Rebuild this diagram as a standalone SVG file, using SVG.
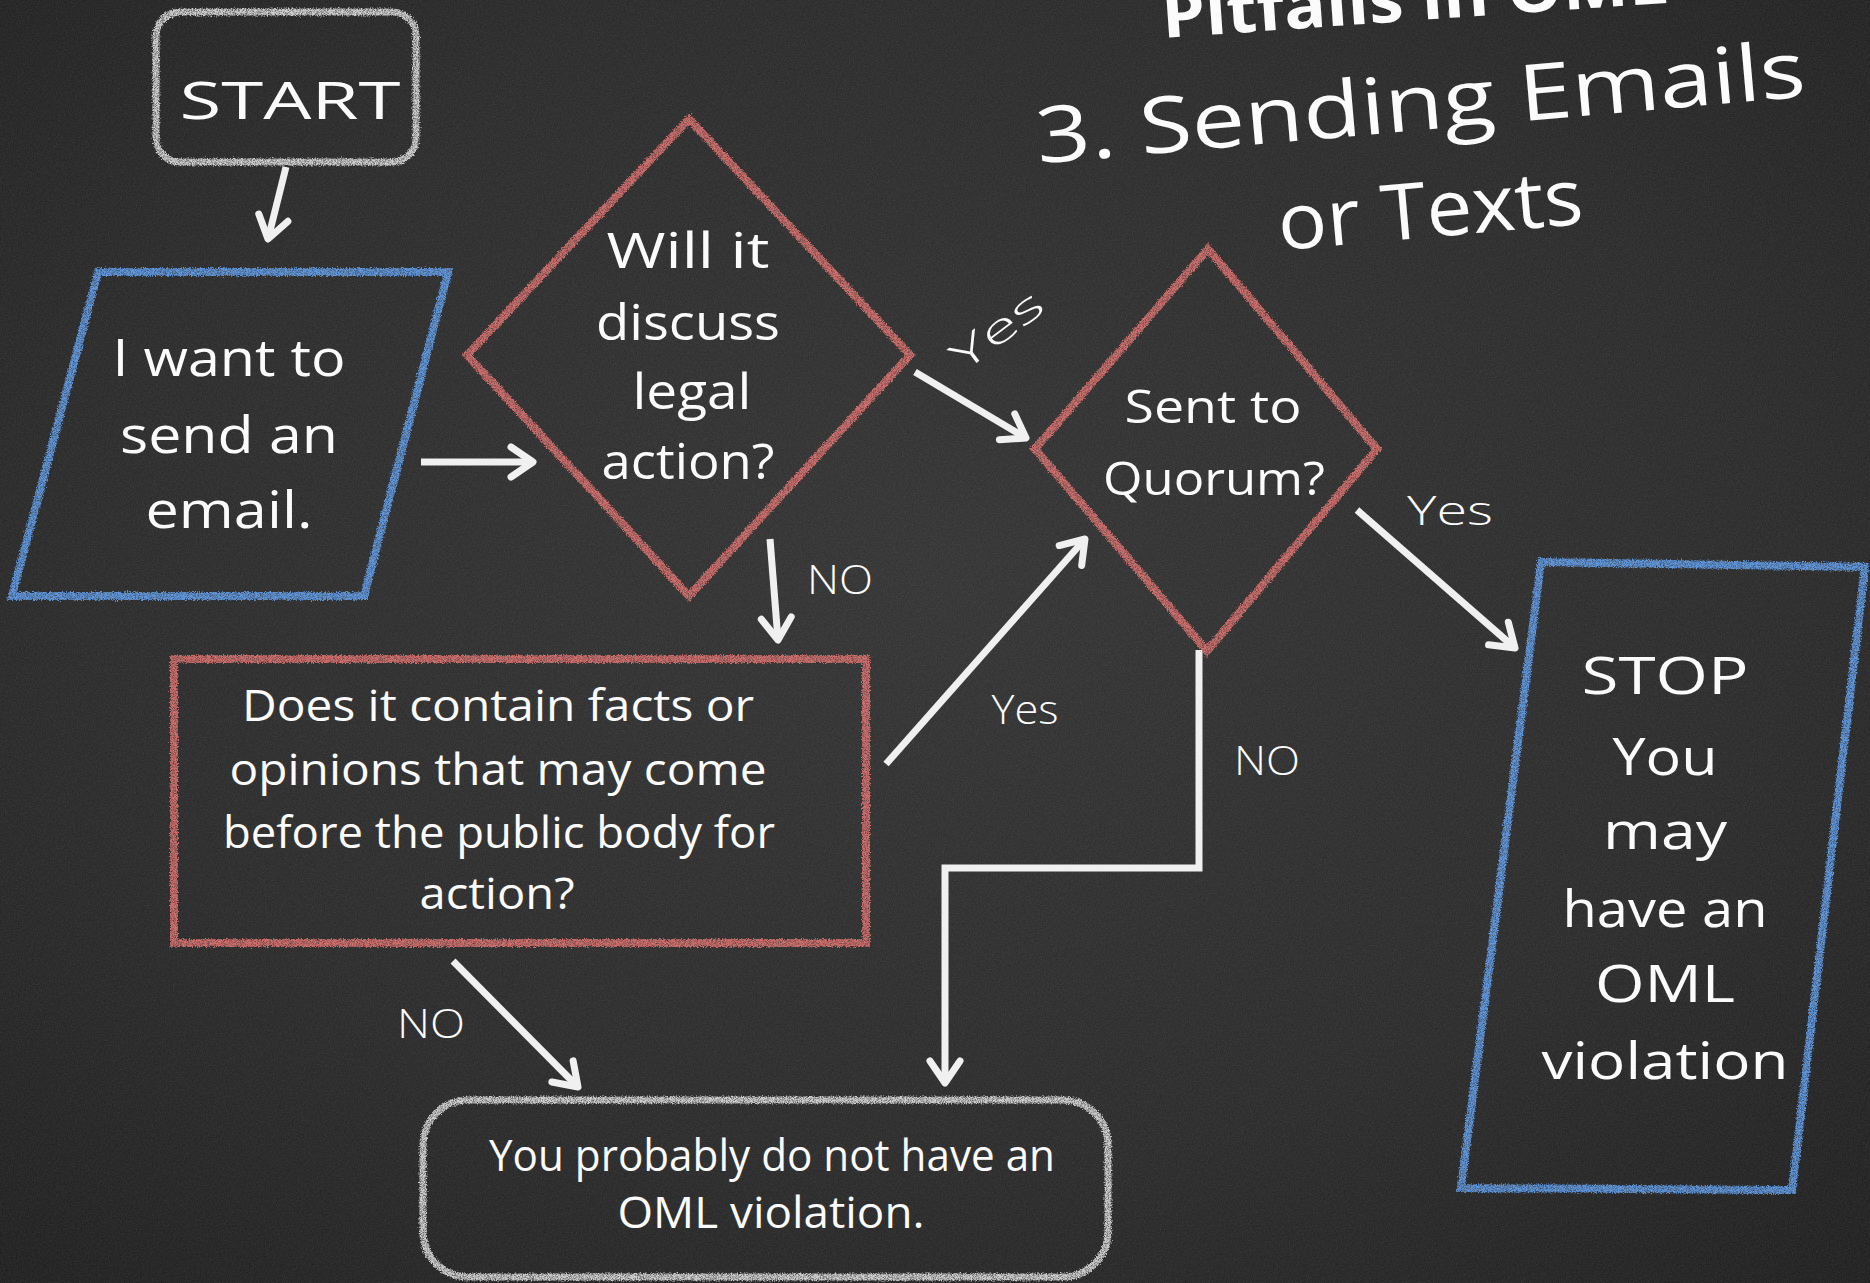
<svg xmlns="http://www.w3.org/2000/svg" width="1870" height="1283" viewBox="0 0 1870 1283">
<defs>
<radialGradient id="bg" cx="50%" cy="45%" r="75%">
<stop offset="0" stop-color="#343434"/>
<stop offset="0.6" stop-color="#2b2b2b"/>
<stop offset="1" stop-color="#1f1f1f"/>
</radialGradient>
<filter id="grain" x="0" y="0" width="100%" height="100%">
<feTurbulence type="fractalNoise" baseFrequency="0.75" numOctaves="2" seed="3"/>
<feColorMatrix type="matrix" values="0 0 0 0 1  0 0 0 0 1  0 0 0 0 1  0.14 0 0 0 -0.04"/>
</filter>
<filter id="chalk" x="-5%" y="-5%" width="110%" height="110%">
<feTurbulence type="fractalNoise" baseFrequency="0.8" numOctaves="2" seed="7" result="t"/>
<feDisplacementMap in="SourceGraphic" in2="t" scale="5" xChannelSelector="R" yChannelSelector="G" result="d"/>
<feTurbulence type="fractalNoise" baseFrequency="1.4" numOctaves="1" seed="11" result="n2"/>
<feColorMatrix in="n2" type="matrix" values="0 0 0 0 0  0 0 0 0 0  0 0 0 0 0  1.8 0 0 0 -0.1" result="m"/>
<feComposite in="d" in2="m" operator="in"/>
</filter>
<marker id="ah" markerUnits="userSpaceOnUse" markerWidth="40" markerHeight="40" viewBox="0 0 40 40" refX="35" refY="20" orient="auto">
<path d="M13,5 L35,20 L13,35" fill="none" stroke="#f0f0f0" stroke-width="7" stroke-linecap="round" stroke-linejoin="round"/>
</marker>
</defs>
<style>
text{font-family:"Open Sans","Liberation Sans",sans-serif;fill:#fbfbfb;}
.t{text-anchor:middle;}
.red{fill:none;stroke:#d3706d;stroke-width:8;filter:url(#chalk);}
.blue{fill:none;stroke:#6199e0;stroke-width:8;filter:url(#chalk);}
.grey{fill:none;stroke:#d0d0d0;stroke-width:7;filter:url(#chalk);}
.conn{fill:none;stroke:#f0f0f0;stroke-width:7;marker-end:url(#ah);}
.lbl{font-size:40px;font-weight:300;}
</style>
<rect width="1870" height="1283" fill="url(#bg)"/>
<rect width="1870" height="1283" filter="url(#grain)"/>

<g id="title">
<text x="1163" y="38" font-size="64" font-weight="700" transform="rotate(-4 1163 38)" textLength="507" lengthAdjust="spacingAndGlyphs">Pitfalls in OML</text>
<text x="1421" y="130" class="t" font-size="78" transform="rotate(-5 1421 110)" textLength="772" lengthAdjust="spacingAndGlyphs">3. Sending Emails</text>
<text x="1431" y="237" class="t" font-size="78" transform="rotate(-5 1431 220)" textLength="306" lengthAdjust="spacingAndGlyphs">or Texts</text>
</g>

<g id="connectors">
<line class="conn" x1="286" y1="167" x2="268" y2="239"/>
<line class="conn" x1="421" y1="462" x2="533" y2="462"/>
<line class="conn" x1="915" y1="372" x2="1026" y2="438"/>
<line class="conn" x1="1357" y1="510" x2="1515" y2="648"/>
<line class="conn" x1="770" y1="539" x2="778" y2="640"/>
<line class="conn" x1="886" y1="764" x2="1085" y2="539"/>
<line class="conn" x1="453" y1="961" x2="578" y2="1087"/>
<polyline class="conn" points="1199,650 1199,868 945,868 945,1083"/>
<text class="lbl t" x="997" y="344" transform="rotate(-37 997 330)" textLength="105" lengthAdjust="spacingAndGlyphs">Yes</text>
<text class="lbl t" x="1450" y="525" font-size="46" textLength="86" lengthAdjust="spacingAndGlyphs">Yes</text>
<text class="lbl t" x="840" y="594" textLength="66" lengthAdjust="spacingAndGlyphs">NO</text>
<text class="lbl t" x="1025" y="724" textLength="67" lengthAdjust="spacingAndGlyphs">Yes</text>
<text class="lbl t" x="431" y="1038" textLength="68" lengthAdjust="spacingAndGlyphs">NO</text>
<text class="lbl t" x="1267" y="775" textLength="66" lengthAdjust="spacingAndGlyphs">NO</text>
</g>

<g id="start">
<rect class="grey" x="156" y="12" width="260" height="150" rx="24"/>
<text class="t" x="290" y="119" font-size="52" textLength="221" lengthAdjust="spacingAndGlyphs">START</text>
</g>

<g id="want">
<polygon class="blue" points="98,272 448,272 364,596 12,596"/>
<text class="t" x="229" y="376" font-size="52" textLength="233" lengthAdjust="spacingAndGlyphs">I want to</text>
<text class="t" x="229" y="453" font-size="52" textLength="218" lengthAdjust="spacingAndGlyphs">send an</text>
<text class="t" x="229" y="528" font-size="52" textLength="167" lengthAdjust="spacingAndGlyphs">email.</text>
</g>

<g id="legal">
<polygon class="red" points="689,119 910,355 689,596 467,355"/>
<text class="t" x="688" y="268" font-size="50" textLength="163" lengthAdjust="spacingAndGlyphs">Will it</text>
<text class="t" x="688" y="340" font-size="50" textLength="184" lengthAdjust="spacingAndGlyphs">discuss</text>
<text class="t" x="692" y="409" font-size="50" textLength="119" lengthAdjust="spacingAndGlyphs">legal</text>
<text class="t" x="688" y="479" font-size="50" textLength="173" lengthAdjust="spacingAndGlyphs">action?</text>
</g>

<g id="quorum">
<polygon class="red" points="1208,249 1377,449 1207,651 1035,449"/>
<text class="t" x="1213" y="423" font-size="46" textLength="177" lengthAdjust="spacingAndGlyphs">Sent to</text>
<text class="t" x="1214" y="495" font-size="46" textLength="222" lengthAdjust="spacingAndGlyphs">Quorum?</text>
</g>

<g id="stop">
<polygon class="blue" points="1541,562 1865,567 1792,1190 1461,1188"/>
<text class="t" x="1665" y="694" font-size="52" textLength="167" lengthAdjust="spacingAndGlyphs">STOP</text>
<text class="t" x="1665" y="775" font-size="52" textLength="105" lengthAdjust="spacingAndGlyphs">You</text>
<text class="t" x="1665" y="849" font-size="52" textLength="124" lengthAdjust="spacingAndGlyphs">may</text>
<text class="t" x="1665" y="927" font-size="52" textLength="205" lengthAdjust="spacingAndGlyphs">have an</text>
<text class="t" x="1665" y="1002" font-size="52" textLength="140" lengthAdjust="spacingAndGlyphs">OML</text>
<text class="t" x="1665" y="1079" font-size="52" textLength="247" lengthAdjust="spacingAndGlyphs">violation</text>
</g>

<g id="facts">
<rect class="red" x="174" y="659" width="692" height="284"/>
<text class="t" x="498" y="721" font-size="44" textLength="512" lengthAdjust="spacingAndGlyphs">Does it contain facts or</text>
<text class="t" x="498" y="785" font-size="44" textLength="537" lengthAdjust="spacingAndGlyphs">opinions that may come</text>
<text class="t" x="499" y="848" font-size="44" textLength="552" lengthAdjust="spacingAndGlyphs">before the public body for</text>
<text class="t" x="497" y="909" font-size="44" textLength="155" lengthAdjust="spacingAndGlyphs">action?</text>
</g>

<g id="noviolation">
<rect class="grey" x="423" y="1100" width="685" height="177" rx="45"/>
<text class="t" x="772" y="1171" font-size="44" textLength="566" lengthAdjust="spacingAndGlyphs">You probably do not have an</text>
<text class="t" x="771" y="1228" font-size="44" textLength="307" lengthAdjust="spacingAndGlyphs">OML violation.</text>
</g>
</svg>
